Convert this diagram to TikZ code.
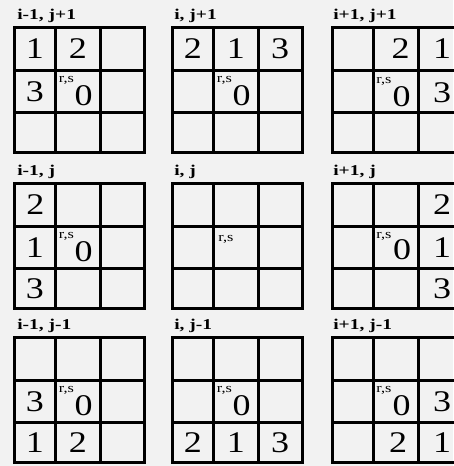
\documentclass[tikz,border=0pt]{standalone}
\usepackage{fontspec}
\setmainfont{Liberation Serif}
\definecolor{paper}{gray}{0.95}
\tikzset{
  gridline/.style={line width=3pt, line cap=rect},
  dig/.style={inner sep=0pt, xscale=1.2, font=\fontsize{30}{30}\selectfont},
  zero/.style={dig},
  rs/.style={inner sep=0pt, anchor=base west, xscale=1.25, font=\fontsize{13}{13}\selectfont},
  lab/.style={inner sep=0pt, anchor=base west, xscale=1.3, font=\fontsize{15}{15}\selectfont\bfseries},
}
\newcommand{\gridlines}{%
  \draw[gridline] (0,0) rectangle (130,125.5);
  \draw[gridline] (41.5,0) -- (41.5,125.5) (86,0) -- (86,125.5)
                  (0,43.5) -- (130,43.5) (0,85.5) -- (130,85.5);}
\begin{document}
\begin{tikzpicture}[x=1pt,y=-1pt]
\fill[paper] (0,0) rectangle (453,466);
\useasboundingbox (0,0) rectangle (453,466);
% ---------- row j+1 ----------
\begin{scope}[shift={(14,27)}]
  \gridlines
  \node[lab] (lA1) at (3,-8) {i-1, j+1};
  \node[dig] (A1a) at (20.75,21.75) {1};
  \node[dig] (A1b) at (63.75,21.75) {2};
  \node[dig] (A1c) at (20.75,64.5) {3};
  \node[zero] (A1z) at (69.5,69) {0};
  \node[rs] (A1r) at (44.5,55) {r,s};
\end{scope}
\begin{scope}[shift={(172,27)}]
  \gridlines
  \node[lab] (lB1) at (2,-8) {i, j+1};
  \node[dig] (B1a) at (20.75,21.75) {2};
  \node[dig] (B1b) at (63.75,21.75) {1};
  \node[dig] (B1c) at (108,21.75) {3};
  \node[zero] (B1z) at (69.5,69) {0};
  \node[rs] (B1r) at (44.5,55) {r,s};
\end{scope}
\begin{scope}[shift={(332,27)}]
  \gridlines
  \node[lab] (lC1) at (1,-8) {i+1, j+1};
  \node[dig] (C1a) at (68.5,21.75) {2};
  \node[dig] (C1b) at (110,21.75) {1};
  \node[zero] (C1z) at (69.5,70) {0};
  \node[dig] (C1c) at (110,66) {3};
  \node[rs] (C1r) at (44,56) {r,s};
\end{scope}
% ---------- row j ----------
\begin{scope}[shift={(14,183)}]
  \gridlines
  \node[lab] (lA2) at (3,-8) {i-1, j};
  \node[dig] (A2a) at (21.5,21.75) {2};
  \node[dig] (A2b) at (20.75,64.5) {1};
  \node[zero] (A2z) at (69.5,69) {0};
  \node[dig] (A2c) at (20.75,105.5) {3};
  \node[rs] (A2r) at (44.5,55) {r,s};
\end{scope}
\begin{scope}[shift={(172,183)}]
  \gridlines
  \node[lab] (lB2) at (2,-8) {i, j};
  \node[rs] (B2r) at (46,58) {r,s};
\end{scope}
\begin{scope}[shift={(332,183)}]
  \gridlines
  \node[lab] (lC2) at (1,-8) {i+1, j};
  \node[dig] (C2a) at (110,21.75) {2};
  \node[zero] (C2z) at (70,67) {0};
  \node[dig] (C2b) at (110,64.5) {1};
  \node[dig] (C2c) at (110,105.5) {3};
  \node[rs] (C2r) at (44,55) {r,s};
\end{scope}
% ---------- row j-1 ----------
\begin{scope}[shift={(14,337)}]
  \gridlines
  \node[lab] (lA3) at (3,-8) {i-1, j-1};
  \node[dig] (A3a) at (20.75,64.5) {3};
  \node[zero] (A3z) at (69.5,69) {0};
  \node[rs] (A3r) at (44.5,55) {r,s};
  \node[dig] (A3b) at (20.75,105.5) {1};
  \node[dig] (A3c) at (63.75,105.5) {2};
\end{scope}
\begin{scope}[shift={(172,337)}]
  \gridlines
  \node[lab] (lB3) at (2,-8) {i, j-1};
  \node[zero] (B3z) at (69.5,69) {0};
  \node[rs] (B3r) at (44.5,55) {r,s};
  \node[dig] (B3a) at (20.75,105.5) {2};
  \node[dig] (B3b) at (63.75,105.5) {1};
  \node[dig] (B3c) at (108,105.5) {3};
\end{scope}
\begin{scope}[shift={(332,337)}]
  \gridlines
  \node[lab] (lC3) at (1,-8) {i+1, j-1};
  \node[zero] (C3z) at (69.5,69) {0};
  \node[rs] (C3r) at (44,55) {r,s};
  \node[dig] (C3a) at (110,64.5) {3};
  \node[dig] (C3b) at (66,105.5) {2};
  \node[dig] (C3c) at (110,105.5) {1};
\end{scope}
\end{tikzpicture}
\end{document}
